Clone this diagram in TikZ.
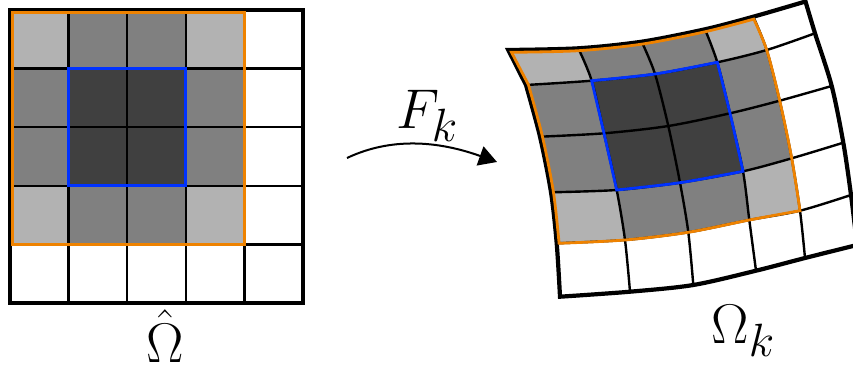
\documentclass[tikz,border=0pt]{standalone}
\usetikzlibrary{arrows.meta,calc}
\definecolor{lightg}{gray}{0.70}
\definecolor{midg}{gray}{0.50}
\definecolor{darkg}{gray}{0.25}
\definecolor{orng}{RGB}{238,130,0}
\definecolor{blu}{RGB}{0,50,255}
\begin{document}
\begin{tikzpicture}[x=1pt,y=-1pt,
  gridline/.style={line width=2.4pt,black},
  outerline/.style={line width=4.2pt,black,line join=miter},
  orngline/.style={line width=2.8pt,draw=orng,line join=miter},
  bluline/.style={line width=2.8pt,draw=blu,line join=miter},
  biglabel/.style={font=\Huge,inner sep=0pt,scale=2.25},
  arrowline/.style={line width=2pt,-{Triangle[length=18pt,width=20pt]}}]
\useasboundingbox (0,0) rectangle (853,371);
\clip (0,0) rectangle (853,371);
\def\cells{0/0/lightg,3/0/lightg,0/3/lightg,3/3/lightg,1/0/midg,2/0/midg,0/1/midg,0/2/midg,3/1/midg,3/2/midg,1/3/midg,2/3/midg,1/1/darkg,2/1/darkg,1/2/darkg,2/2/darkg}
% ---------- left reference grid ----------
\def\s{58.6}
\foreach \i/\j/\c in \cells
  \fill[\c] (10+\i*\s,10+\j*\s) rectangle ++(\s,\s);
\foreach \k in {1,...,4}{
  \draw[gridline] (10+\k*\s,10) -- (10+\k*\s,303);
  \draw[gridline] (10,10+\k*\s) -- (303,10+\k*\s);
}
\draw[outerline] (10,10) rectangle (303,303);
\draw[orngline] (12.6,12.6) rectangle (244.4,244.4);
\draw[bluline] (68.6,68.6) rectangle (185.8,185.8);
\node[biglabel,anchor=base] (omhat) at (165,362.5) {$\hat{\Omega}$};
% ---------- mapped grid ----------
\foreach \n/\x/\y in {
  00/508.3/50, 10/578.3/48.3, 20/641.7/41.7, 30/705/29.3, 40/753.3/16.7, 50/805.5/1.5,
  01/526/85, 11/591.7/80.7, 21/655/74, 31/717.3/62.3, 41/766.7/50, 51/815/33.3,
  02/540/136.7, 12/604/133.3, 22/668.3/126, 32/730/113.3, 42/779.7/100.7, 52/831.7/86,
  03/551/192.3, 13/616.7/190, 23/680/182.7, 33/743/171.3, 43/791.7/158.3, 53/843.3/142.7,
  04/556.7/243.3, 14/625/240, 24/688.3/232.3, 34/749.3/220, 44/800/210.7, 54/851/195,
  05/560/296.7, 15/630/291.7, 25/693.3/285, 35/756/270.7, 45/805/258, 55/857/245}
  \coordinate (q\n) at (\x,\y);
% inset points for the orange boundary along the outer border
\coordinate (o00) at ($(q00)+(3.2,2.3)$);
\foreach \i in {1,2,3} \coordinate (o\i0) at ($(q\i0)+(0.4,2.4)$);
\coordinate (o40) at ($(q40)+(0.5,2.4)$);
\foreach \j in {1,2,3} \coordinate (o0\j) at ($(q0\j)+(2.4,-0.3)$);
\coordinate (o04) at ($(q04)+(2.4,0)$);
\foreach \i/\j/\c in \cells{
  \pgfmathtruncatemacro\ii{\i+1}
  \pgfmathtruncatemacro\jj{\j+1}
  \fill[\c] (q\i\j) -- (q\ii\j) -- (q\ii\jj) -- (q\i\jj) -- cycle;
}
\foreach \j in {1,...,4}
  \draw[gridline] plot[smooth] coordinates {(q0\j) (q1\j) (q2\j) (q3\j) (q4\j) (q5\j)};
\foreach \i in {1,...,4}
  \draw[gridline] plot[smooth] coordinates {(q\i0) (q\i1) (q\i2) (q\i3) (q\i4) (q\i5)};
\draw[outerline] plot[smooth] coordinates {(q00) (q10) (q20) (q30) (q40) (q50)}
  -- plot[smooth] coordinates {(q50) (q51) (q52) (q53) (q54) (q55)}
  -- plot[smooth] coordinates {(q55) (q45) (q35) (q25) (q15) (q05)}
  -- plot[smooth] coordinates {(q05) (q04) (q03) (q02) (q01)} -- cycle;
\draw[orngline] plot[smooth] coordinates {(o00) (o10) (o20) (o30) (o40)}
  -- plot[smooth] coordinates {(o40) (q41) (q42) (q43) (q44)}
  -- plot[smooth] coordinates {(q44) (q34) (q24) (q14) (o04)}
  -- plot[smooth] coordinates {(o04) (o03) (o02) (o01)} -- cycle;
\draw[bluline] plot[smooth] coordinates {(q11) (q21) (q31)}
  -- plot[smooth] coordinates {(q31) (q32) (q33)}
  -- plot[smooth] coordinates {(q33) (q23) (q13)}
  -- (q12) -- cycle;
\node[biglabel,anchor=base west] (omk) at (711,343.3) {$\Omega_k$};
% ---------- map arrow ----------
\coordinate (arrs) at (347,158);
\coordinate (arre) at (497,162);
\draw[arrowline] (arrs) .. controls (385,140) and (430,138) .. (arre);
\node[biglabel,anchor=base west] (fk) at (396,128.3) {$F_k$};
\end{tikzpicture}
\end{document}
